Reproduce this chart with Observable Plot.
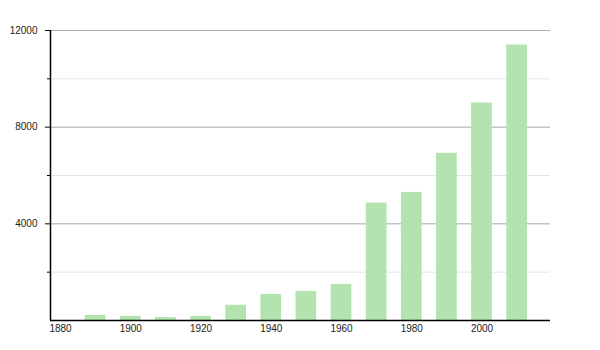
<!DOCTYPE html>
<html>
<head>
<meta charset="utf-8">
<script src="https://cdn.jsdelivr.net/npm/d3@7"></script>
<script src="https://cdn.jsdelivr.net/npm/@observablehq/plot@0.6"></script>
<style>
  html, body { margin: 0; padding: 0; background: #fff; }
</style>
</head>
<body>
<div id="chart"></div>
<script>
const years = [1890, 1900, 1910, 1920, 1930, 1940, 1950, 1960, 1970, 1980, 1990, 2000, 2010];
const values = [210, 170, 120, 170, 630, 1080, 1200, 1490, 4860, 5300, 6920, 9000, 11400];
const xTickLabels = [1880, 1900, 1920, 1940, 1960, 1980, 2000];
const yMajorTicks = [4000, 8000, 12000];
const yMinorTicks = [2000, 6000, 10000];

const data = years.map((year, i) => ({year, value: values[i]}));
const halfBar = 2.95;
const xDomain = [1877.15, 2019.5];

const chart = Plot.plot({
  width: 600,
  height: 350,
  marginTop: 30,
  marginBottom: 30,
  marginLeft: 50,
  marginRight: 50,
  style: {fontFamily: "'Liberation Sans', Arial, sans-serif", fontSize: "10px", background: "#fff", color: "#222"},
  x: {domain: xDomain},
  y: {domain: [0, 12000]},
  marks: [
    Plot.ruleY(yMinorTicks, {stroke: "#e4e4e4", strokeWidth: 1}),
    Plot.ruleY(yMajorTicks, {stroke: "#a8a8a8", strokeWidth: 1}),
    Plot.rectY(data, {x1: d => d.year - halfBar, x2: d => d.year + halfBar, y: "value", fill: "#b3e4af"}),
    Plot.axisY({ticks: yMajorTicks, tickSize: 5, tickPadding: 8, tickFormat: d3.format("d"), label: null, stroke: "#000"}),
    Plot.axisY({ticks: yMinorTicks, tickSize: 3, tickFormat: () => "", label: null, stroke: "#000"}),
    Plot.axisX({ticks: xTickLabels, tickSize: 0, tickPadding: 4, tickFormat: d3.format("d"), label: null}),
    Plot.ruleX([xDomain[0]], {y1: 0, y2: 12000, stroke: "#000", strokeWidth: 1.5}),
    Plot.ruleY([0], {stroke: "#000", strokeWidth: 1.5})
  ]
});
document.getElementById("chart").appendChild(chart);
</script>
</body>
</html>
